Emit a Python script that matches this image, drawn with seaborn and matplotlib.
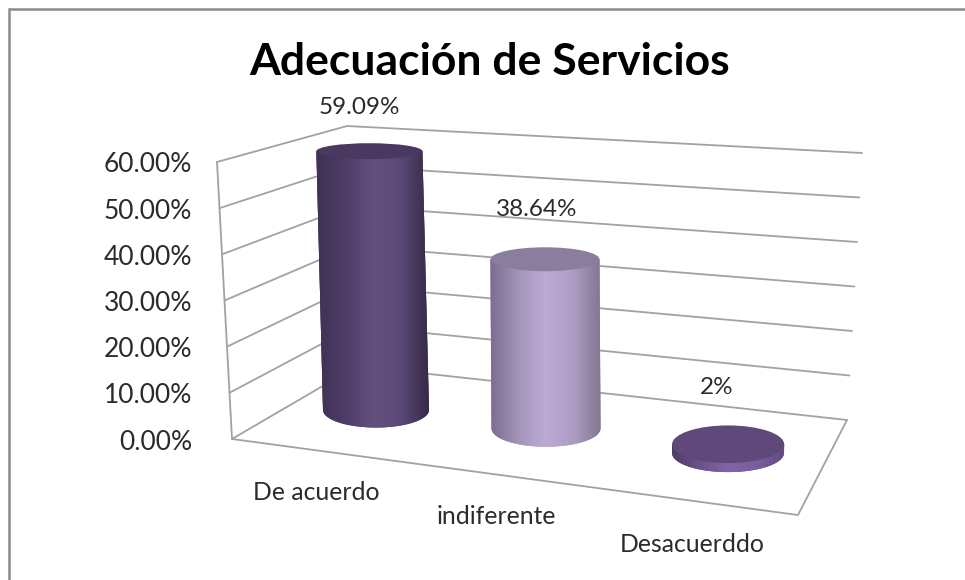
import numpy as np
import pandas as pd
import matplotlib
matplotlib.use("Agg")
import matplotlib.pyplot as plt
import seaborn as sns
from matplotlib.colors import LinearSegmentedColormap
from matplotlib.patches import Ellipse, PathPatch, Rectangle
from matplotlib.path import Path
from matplotlib.transforms import Affine2D

# data
categorias = ["De acuerdo", "indiferente", "Desacuerddo"]
valores = [59.09, 38.64, 2]
etiquetas = ["59.09%", "38.64%", "2%"]
ticks = [0, 10, 20, 30, 40, 50, 60]

sns.set_theme(style="white")
plt.rcParams["font.family"] = ["Lato", "DejaVu Sans"]

W, H = 965, 580
TXT = "#2b2b2b"
GRID = "#a2a2a2"

# colour ramps across each cylinder, left to right
rampas = [
    ["#3f3054", "#4d3c66", "#64507f", "#5a4977", "#362a47"],
    ["#7a6d90", "#a293b8", "#bdabd6", "#ad9dc4", "#82768f"],
    ["#4e3b66", "#6b5289", "#8264a6", "#7a5f9c", "#624a80"],
]
tapas = ["#4a3860", "#8a7e9f", "#5f497a"]
medios = ["#55436f", "#a293b8", "#6b5289"]

# projection of the 3d look, in pixels
BASE_X = [376, 546, 728]
BASE_Y = [410, 428.5, 453]
ANCHO_PX = [106, 109, 112]
PX_VAL = 4.38


def semi_h(y):
    # ellipses open up as they get closer to the floor
    return 8 + (y - 152) * 0.037


def tilt(x):
    return (x - 600) * 0.0005


fig = plt.figure(figsize=(W / 100, H / 100), dpi=100)
ax = fig.add_axes([0, 0, 1, 1])

df = pd.DataFrame({"categoria": categorias, "valor": valores})
sns.barplot(data=df, x="categoria", y="valor", hue="categoria", palette=medios,
            width=0.615, legend=False, saturation=1, ax=ax, zorder=2)

barras = [p for p in ax.patches if isinstance(p, Rectangle)]
for i, bar in enumerate(barras):
    cx, cy = BASE_X[i], BASE_Y[i]
    s = tilt(cx)
    esc = ANCHO_PX[i] / bar.get_width()
    # (cat, value) -> pixel, base of the bar sits on the floor
    tr = Affine2D.from_values(esc, 0, s, -PX_VAL, cx - esc * i, cy)
    bar.set_transform(tr + ax.transData)
    bar.set_linewidth(0)

    x, ancho, alto = bar.get_x(), bar.get_width(), bar.get_height()
    (bl, br, tr_, tl) = tr.transform([(x, 0), (x + ancho, 0), (x + ancho, alto), (x, alto)])
    a = (br[0] - bl[0]) / 2
    hb = semi_h(cy)
    ht = semi_h(tl[1])

    t = np.linspace(np.pi, 0, 60)
    arco = np.column_stack([cx + a * np.cos(t), cy + hb * np.sin(t)])
    verts = np.vstack([tl, arco, tr_, tl])
    cuerpo = PathPatch(Path(verts), facecolor=medios[i], edgecolor="none", zorder=2)
    ax.add_patch(cuerpo)

    cmap = LinearSegmentedColormap.from_list(f"r{i}", rampas[i])
    grad = np.linspace(0, 1, 256).reshape(1, -1)
    im = ax.imshow(grad, cmap=cmap, aspect="auto", zorder=3, interpolation="bilinear",
                   extent=[min(bl[0], tl[0]), max(br[0], tr_[0]), cy + hb, tl[1]])
    im.set_clip_path(cuerpo)

    cxt = (tl[0] + tr_[0]) / 2
    ax.add_patch(Ellipse((cxt, tl[1]), 2 * a, 2 * ht, facecolor=tapas[i], edgecolor="none", zorder=4))

# walls and floor
izq_base, izq_top = np.array([232, 439]), np.array([217, 162])
fondo_base, fondo_top = np.array([357, 366]), np.array([347, 126])
der_base, der_top = np.array([847, 420]), np.array([862, 153])
frente_der = np.array([798, 515])

for t in ticks:
    f = t / ticks[-1]
    p1 = izq_base + (izq_top - izq_base) * f
    p2 = fondo_base + (fondo_top - fondo_base) * f
    p3 = der_base + (der_top - der_base) * f
    ax.plot([p1[0], p2[0], p3[0]], [p1[1], p2[1], p3[1]], color=GRID, lw=1.3, zorder=1)
    ax.text(192, p1[1] + 3, f"{t:.2f}%", ha="right", va="center", fontsize=19, color=TXT)

ax.plot([izq_top[0], izq_base[0], frente_der[0], der_base[0]],
        [izq_top[1], izq_base[1], frente_der[1], der_base[1]], color=GRID, lw=1.3, zorder=1)

# texts
ax.text(490, 62, "Adecuación de Servicios", ha="center", va="center",
        fontsize=32, fontweight="bold", color="black")
for lab, (px, py) in zip(etiquetas, [(359, 108), (537, 209), (717, 388)]):
    ax.text(px, py, lab, ha="center", va="center", fontsize=17.5, color=TXT)
for cat, (px, py) in zip(categorias, [(316, 493), (496, 517), (692, 545)]):
    ax.text(px, py, cat, ha="center", va="center", fontsize=17.8, color=TXT)

# chart frame, only top and left edges fall inside the picture
ax.plot([9, 9, W], [H, 9, 9], color="#8a8a8a", lw=1.8, zorder=0, solid_joinstyle="miter")

ax.set_xlim(0, W)
ax.set_ylim(H, 0)
ax.set_axis_off()
fig.savefig("out.png", dpi=100)
